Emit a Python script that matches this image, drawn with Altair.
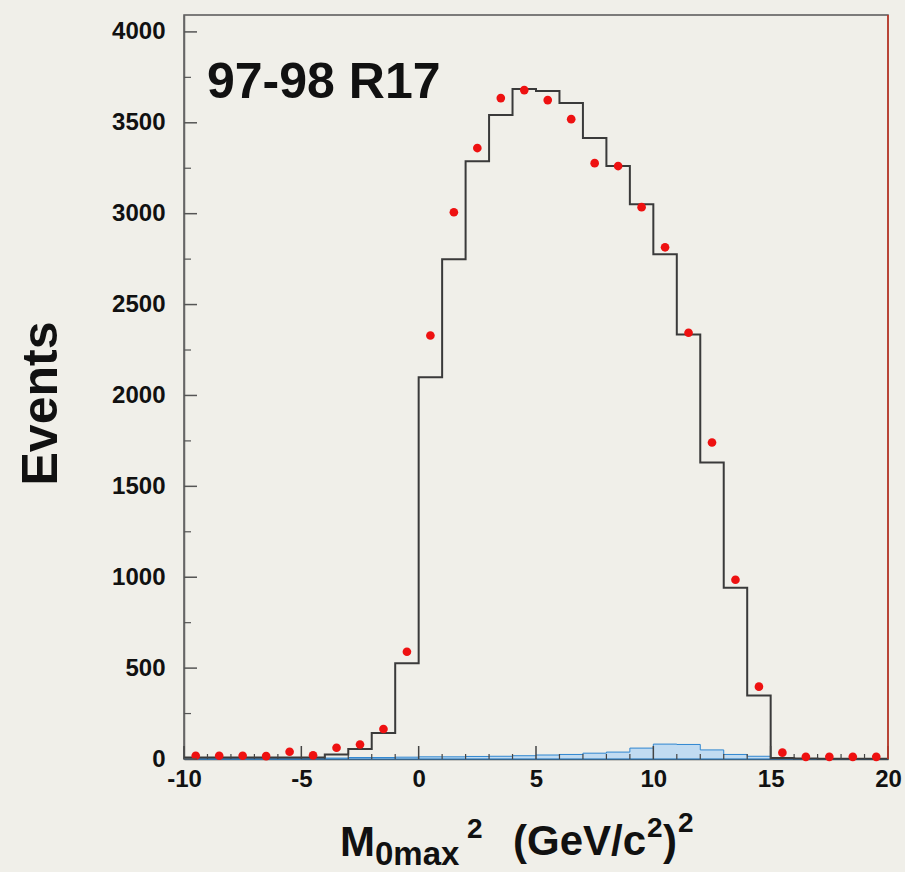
import altair as alt
import pandas as pd

# Bin left edges (width 1) of M0max^2 histogram
bin_left = [-10, -9, -8, -7, -6, -5, -4, -3, -2, -1, 0, 1, 2, 3, 4, 5, 6, 7, 8, 9,
            10, 11, 12, 13, 14, 15, 16, 17, 18, 19]
# Monte Carlo histogram (black step line)
mc_events = [8, 8, 8, 8, 8, 8, 25, 55, 143, 527, 2100, 2749, 3289, 3543, 3686, 3675,
             3609, 3416, 3262, 3052, 2777, 2336, 1631, 942, 350, 5, 3, 2, 2, 2]
# Data (red points)
data_events = [18, 18, 18, 16, 40, 20, 62, 80, 165, 590, 2330, 3008, 3361, 3636, 3680,
               3625, 3520, 3278, 3262, 3036, 2815, 2345, 1741, 986, 398, 35, 12, 12, 12, 12]
# Background (blue hatched)
bkg_events = [0, 0, 0, 0, 0, 2, 5, 8, 8, 10, 12, 12, 14, 15, 18, 22, 25, 32, 38, 60,
              82, 80, 50, 25, 15, 5, 0, 0, 0, 0]

x_major = [-10, -5, 0, 5, 10, 15, 20]
x_minor = [-9, -8, -7, -6, -4, -3, -2, -1, 1, 2, 3, 4, 6, 7, 8, 9, 11, 12, 13, 14,
           16, 17, 18, 19]
y_major = [0, 500, 1000, 1500, 2000, 2500, 3000, 3500, 4000]
y_minor = [250, 750, 1250, 1750, 2250, 2750, 3250, 3750]

W, H = 704, 744
FONT = "Liberation Sans"
LABEL_EXPR = "datum.value < 0 ? '-' + abs(datum.value) : '' + datum.value"

bin_width = bin_left[1] - bin_left[0]
step_x = bin_left + [bin_left[-1] + bin_width]
mc_df = pd.DataFrame({"x": step_x, "y": mc_events + [mc_events[-1]]})
bkg_df = pd.DataFrame({"x": step_x, "y": bkg_events + [bkg_events[-1]]})
pts_df = pd.DataFrame({"x": [b + bin_width / 2 for b in bin_left], "y": data_events})

xs = alt.Scale(domain=[-10, 20], nice=False, zero=False)
ys = alt.Scale(domain=[0, 4093], nice=False)

x_axis = alt.Axis(values=x_major, title=None, grid=False, ticks=False, tickSize=0,
                  labelFontSize=24, labelFont=FONT, labelFontWeight="bold",
                  labelColor="#111", labelPadding=8, domainColor="#444",
                  domainWidth=1.5, labelFlush=False, labelExpr=LABEL_EXPR)
y_axis = alt.Axis(values=y_major, title="Events", grid=False, ticks=False, tickSize=0,
                  labelFontSize=24, labelFont=FONT, labelFontWeight="bold",
                  labelColor="#111", labelPadding=19, domainColor="#666",
                  domainWidth=1.5, titleFont=FONT, titleFontSize=50,
                  titleFontWeight="bold", titleColor="#111", titleAngle=270,
                  titleX=-143, titleY=388, titleAlign="center",
                  titleBaseline="middle", labelFlush=False, labelExpr=LABEL_EXPR)

bkg = alt.Chart(bkg_df).mark_area(
    interpolate="step-after", fill="#b5d6f2", stroke="#2f86d0", strokeWidth=1,
    fillOpacity=0.8
).encode(x=alt.X("x:Q", scale=xs, axis=x_axis), y=alt.Y("y:Q", scale=ys, axis=y_axis))

mc = alt.Chart(mc_df).mark_line(
    interpolate="step-after", color="#3a3a3a", strokeWidth=2
).encode(x=alt.X("x:Q", scale=xs), y=alt.Y("y:Q", scale=ys))

pts = alt.Chart(pts_df).mark_point(
    filled=True, shape="circle", size=75, color="#ee1111", opacity=1
).encode(x=alt.X("x:Q", scale=xs), y=alt.Y("y:Q", scale=ys))

xmaj = alt.Chart(pd.DataFrame({"x": x_major})).mark_rule(color="#444", strokeWidth=1.5).encode(
    x=alt.X("x:Q", scale=xs), y=alt.value(H), y2=alt.value(H - 13))
xmin = alt.Chart(pd.DataFrame({"x": x_minor})).mark_rule(color="#444", strokeWidth=1.2).encode(
    x=alt.X("x:Q", scale=xs), y=alt.value(H), y2=alt.value(H - 5))
ymaj = alt.Chart(pd.DataFrame({"y": y_major})).mark_rule(color="#555", strokeWidth=1.5).encode(
    y=alt.Y("y:Q", scale=ys), x=alt.value(0), x2=alt.value(13))
ymin = alt.Chart(pd.DataFrame({"y": y_minor})).mark_rule(color="#555", strokeWidth=1.2).encode(
    y=alt.Y("y:Q", scale=ys), x=alt.value(0), x2=alt.value(7))

right_edge = alt.Chart(pd.DataFrame({"x": [20]})).mark_rule(color="#cc3322", strokeWidth=1.5).encode(
    x=alt.X("x:Q", scale=xs), y=alt.value(0), y2=alt.value(H))

label = alt.Chart(pd.DataFrame({"t": ["97-98 R17"]})).mark_text(
    font=FONT, fontSize=50, fontWeight="bold", color="#111", align="left",
    baseline="alphabetic"
).encode(text="t:N", x=alt.value(23), y=alt.value(83))

title_parts = pd.DataFrame({
    "t": ["M", "0max", "2", "(GeV/c", "2", ")", "2"],
    "px": [156, 191, 283, 329, 463, 479, 494],
    "py": [841, 850, 823, 840, 822, 840, 817],
    "fs": [42, 33, 28, 42, 28, 42, 28],
})
title_layers = []
for _, r in title_parts.iterrows():
    title_layers.append(
        alt.Chart(pd.DataFrame({"t": [r["t"]]})).mark_text(
            font=FONT, fontSize=int(r["fs"]), fontWeight="bold", color="#111",
            align="left", baseline="alphabetic"
        ).encode(text="t:N", x=alt.value(int(r["px"])), y=alt.value(int(r["py"])))
    )

chart = alt.layer(bkg, mc, pts, xmaj, xmin, ymaj, ymin, right_edge, label, *title_layers).properties(
    width=W, height=H,
    autosize=alt.AutoSizeParams(type="none"),
    padding={"left": 184, "top": 15, "right": 17, "bottom": 113},
    background="#f0efe9",
).configure_view(stroke="#555", strokeWidth=1.5)

chart.save("out.html", embed_options={"renderer": "svg", "actions": False})
